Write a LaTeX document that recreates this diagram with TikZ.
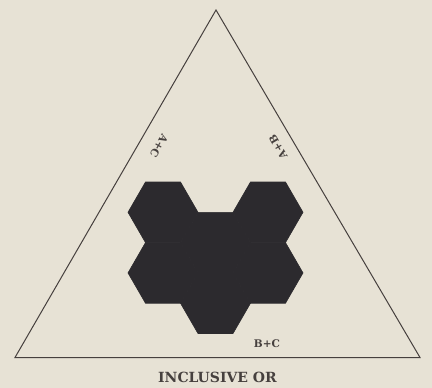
\documentclass[tikz,border=0pt]{standalone}
\usepackage{fontspec}
\setmainfont{DejaVu Serif}
\definecolor{paper}{RGB}{231,226,213}
\definecolor{ink}{RGB}{44,42,46}
\definecolor{edge}{RGB}{70,64,62}
\begin{document}
\begin{tikzpicture}[x=1pt,y=-1pt,
  hexfill/.style={fill=ink,draw=ink,line width=0.6pt,line join=round},
  tri/.style={draw=edge,line width=1pt,line join=miter},
  lab/.style={font=\bfseries\fontsize{10.5}{10.5}\selectfont,text=edge,inner sep=0pt}]
\fill[paper] (0,0) rectangle (432,388);
\useasboundingbox (0,0) rectangle (432,388);
\coordinate (top) at (216,10);
\coordinate (bl) at (15,357.5);
\coordinate (br) at (420,357.5);
\draw[tri] (top) -- (bl) -- (br) -- cycle;
\foreach \cx/\cy in {163/212.3,163/272.9,215.5/242.6,215.5/303.2,268/212.3,268/272.9}{
  \path[hexfill,shift={(\cx,\cy)}] (35,0) -- (17.5,30.3) -- (-17.5,30.3) -- (-35,0) -- (-17.5,-30.3) -- (17.5,-30.3) -- cycle;
}
\node[lab,rotate=-120] (ac) at (159,146) {A+C};
\node[lab,rotate=120] (ab) at (278,147) {A+B};
\node[lab] (bc) at (267,344) {B+C};
\node[font=\bfseries\fontsize{14}{14}\selectfont,text=edge,inner sep=0pt] (title) at (217.5,377) {INCLUSIVE OR};
\end{tikzpicture}
\end{document}
